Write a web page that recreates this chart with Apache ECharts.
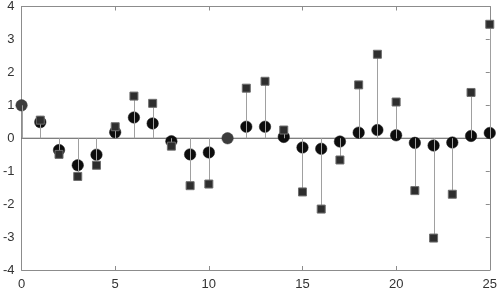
<!DOCTYPE html>
<html>
<head>
<meta charset="utf-8">
<script src="https://cdn.jsdelivr.net/npm/echarts@6/dist/echarts.min.js"></script>
<style>html,body{margin:0;padding:0;background:#fff}#c{width:500px;height:294px}</style>
</head>
<body>
<div id="c"></div>
<script>
var xs = [0,1,2,3,4,5,6,7,8,9,10,11,12,13,14,15,16,17,18,19,20,21,22,23,24,25];
var circles = [1.0,0.49,-0.36,-0.82,-0.5,0.18,0.63,0.45,-0.09,-0.49,-0.43,0.0,0.35,0.35,0.04,-0.28,-0.32,-0.1,0.17,0.25,0.09,-0.14,-0.22,-0.13,0.07,0.16];
var squares = [1.0,0.55,-0.49,-1.16,-0.82,0.35,1.28,1.06,-0.24,-1.44,-1.39,0.0,1.52,1.73,0.25,-1.63,-2.15,-0.66,1.62,2.55,1.1,-1.59,-3.03,-1.7,1.39,3.46];
var xTicks = [0,5,10,15,20,25];
var yTicks = [-4,-3,-2,-1,0,1,2,3,4];

var circleData = xs.map(function(x,i){
  var d = {value:[x,circles[i]]};
  if (Math.abs(circles[i]-squares[i]) < 0.02) d.itemStyle = {color:'#3c3c3c', borderColor:'#3c3c3c'};
  return d;
});
var squareData = xs.map(function(x,i){
  var hide = Math.abs(circles[i]-squares[i]) < 0.02;
  return hide ? {value:[x,squares[i]], symbolSize:0} : {value:[x,squares[i]]};
});
var stemData = xs.map(function(x,i){ return [x, squares[i]]; });

var chart = echarts.init(document.getElementById('c'), null, {renderer:'canvas'});
var axisLineStyle = {color:'#8c8c8c', width:1};
chart.setOption({
  animation:false,
  grid:{left:21, right:8, top:5, bottom:24},
  xAxis:[{
    type:'value', min:0, max:25, interval:5,
    axisLine:{show:true, onZero:false, lineStyle:axisLineStyle},
    axisTick:{show:true, inside:true, length:4, lineStyle:axisLineStyle},
    axisLabel:{color:'#333', fontSize:13, fontFamily:'Liberation Sans, Arial, sans-serif', margin:8,
      formatter:function(v){return xTicks.indexOf(v)>=0 ? String(v) : '';}},
    splitLine:{show:false}
  },{
    type:'value', position:'top', min:0, max:25, interval:5,
    axisLine:{show:true, onZero:false, lineStyle:axisLineStyle},
    axisTick:{show:true, inside:true, length:4, lineStyle:axisLineStyle},
    axisLabel:{show:false}, splitLine:{show:false}
  }],
  yAxis:[{
    type:'value', min:-4, max:4, interval:1,
    axisLine:{show:true, onZero:false, lineStyle:axisLineStyle},
    axisTick:{show:false},
    axisLabel:{color:'#333', fontSize:13, fontFamily:'Liberation Sans, Arial, sans-serif', margin:7,
      formatter:function(v){return yTicks.indexOf(v)>=0 ? String(v) : '';}},
    splitLine:{show:false}
  },{
    type:'value', position:'right', min:-4, max:4, interval:1,
    axisLine:{show:true, onZero:false, lineStyle:axisLineStyle},
    axisTick:{show:true, inside:true, length:4, lineStyle:axisLineStyle},
    axisLabel:{show:false}, splitLine:{show:false}
  }],
  series:[
    {
      type:'line', data:[[0,0],[25,0]], symbol:'none', silent:true, z:1,
      lineStyle:{color:'#555', width:1}
    },
    {
      type:'scatter', data:circleData, symbol:'circle', symbolSize:11.5, z:2,
      itemStyle:{color:'#0d0d0d', borderColor:'#1a1a1a', borderWidth:0.5, opacity:1}
    },
    {
      type:'custom', data:stemData, z:3,
      renderItem:function(params, api){
        var p0 = api.coord([api.value(0), 0]);
        var p1 = api.coord([api.value(0), api.value(1)]);
        var x = Math.round(p0[0]) + 0.5;
        return {type:'line', shape:{x1:x, y1:p0[1], x2:x, y2:p1[1]}, style:{stroke:'#a0a0a0', lineWidth:1}};
      }
    },
    {
      type:'scatter', data:squareData, symbol:'rect', symbolSize:8, z:4,
      itemStyle:{color:'#2e2e2e', borderColor:'#6e6e6e', borderWidth:1, opacity:1}
    }
  ]
});
</script>
</body>
</html>
